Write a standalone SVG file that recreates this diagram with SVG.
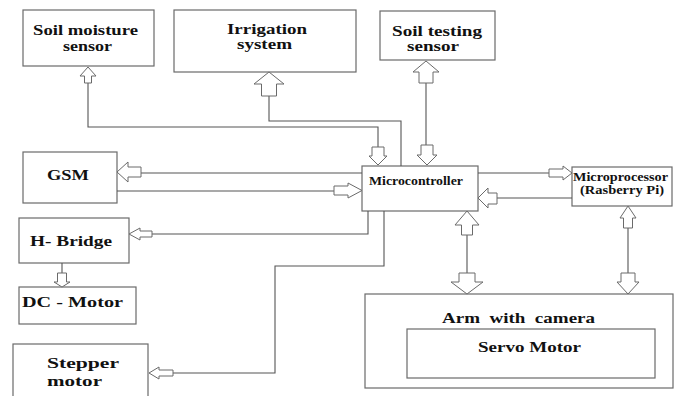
<svg xmlns="http://www.w3.org/2000/svg" width="681" height="396" viewBox="0 0 681 396">
  <style>
    .box { fill: #ffffff; stroke: #6a6a6a; stroke-width: 1.2; }
    .lbl { font-family: "Liberation Serif", "Times New Roman", serif; font-weight: bold; font-size: 14.5px; fill: #111; }
    .sm { font-size: 11.5px; }
    .wire { fill: none; stroke: #555; stroke-width: 1.1; }
    .arr { fill: #ffffff; stroke: #6a6a6a; stroke-width: 1; stroke-linejoin: miter; }
  </style>
  <rect width="681" height="396" fill="#ffffff"/>

  <g id="soil-moisture-sensor">
    <rect class="box" x="23" y="10" width="131" height="56"/>
    <text class="lbl" x="33" y="35" textLength="105" lengthAdjust="spacingAndGlyphs">Soil moisture</text>
    <text class="lbl" x="63" y="51" textLength="49" lengthAdjust="spacingAndGlyphs">sensor</text>
  </g>
  <g id="irrigation-system">
    <rect class="box" x="174" y="10" width="182" height="62"/>
    <text class="lbl" x="227" y="34" textLength="80" lengthAdjust="spacingAndGlyphs">Irrigation</text>
    <text class="lbl" x="237" y="49" textLength="55" lengthAdjust="spacingAndGlyphs">system</text>
  </g>
  <g id="soil-testing-sensor">
    <rect class="box" x="380" y="11" width="115" height="49"/>
    <text class="lbl" x="392" y="36" textLength="90" lengthAdjust="spacingAndGlyphs">Soil testing</text>
    <text class="lbl" x="407" y="51" textLength="52" lengthAdjust="spacingAndGlyphs">sensor</text>
  </g>
  <g id="gsm">
    <rect class="box" x="23" y="152" width="94" height="51"/>
    <text class="lbl" x="47" y="180" textLength="42" lengthAdjust="spacingAndGlyphs">GSM</text>
  </g>
  <g id="h-bridge">
    <rect class="box" x="19" y="218" width="110" height="45"/>
    <text class="lbl" x="30" y="246" textLength="82" lengthAdjust="spacingAndGlyphs">H- Bridge</text>
  </g>
  <g id="dc-motor">
    <rect class="box" x="19" y="287" width="117" height="37"/>
    <text class="lbl" x="22" y="307" textLength="101" lengthAdjust="spacingAndGlyphs">DC - Motor</text>
  </g>
  <g id="stepper-motor">
    <rect class="box" x="13" y="344" width="135" height="60"/>
    <text class="lbl" x="47" y="368" textLength="72" lengthAdjust="spacingAndGlyphs">Stepper</text>
    <text class="lbl" x="47" y="386" textLength="55" lengthAdjust="spacingAndGlyphs">motor</text>
  </g>
  <g id="microcontroller">
    <rect class="box" x="362" y="166" width="116" height="45"/>
    <text class="lbl sm" x="369" y="185" textLength="94" lengthAdjust="spacingAndGlyphs">Microcontroller</text>
  </g>
  <g id="microprocessor">
    <rect class="box" x="572" y="167" width="100" height="39"/>
    <text class="lbl sm" x="573" y="181" textLength="95" lengthAdjust="spacingAndGlyphs">Microprocessor</text>
    <text class="lbl sm" x="580" y="194" textLength="84" lengthAdjust="spacingAndGlyphs">(Rasberry Pi)</text>
  </g>
  <g id="arm-with-camera">
    <rect class="box" x="365" y="294" width="308" height="94"/>
    <text class="lbl" x="442" y="323" textLength="153" lengthAdjust="spacingAndGlyphs" xml:space="preserve">Arm  with  camera</text>
    <g id="servo-motor">
      <rect class="box" x="407" y="329" width="248" height="49"/>
      <text class="lbl" x="478" y="352" textLength="103" lengthAdjust="spacingAndGlyphs">Servo Motor</text>
    </g>
  </g>

  <g id="connectors">
    <!-- wires -->
    <path class="wire" d="M88 83 V127 H378 V147"/>
    <path class="wire" d="M269 96 V121 H401 V166"/>
    <path class="wire" d="M426 83 V145"/>
    <path class="wire" d="M362 173 H141"/>
    <path class="wire" d="M117 191 H334"/>
    <path class="wire" d="M368 211 V234 H152"/>
    <path class="wire" d="M384 211 V266 H275 V373 H173"/>
    <path class="wire" d="M62 263 V273"/>
    <path class="wire" d="M478 173 H549"/>
    <path class="wire" d="M572 198 H497"/>
    <path class="wire" d="M467 235 V273"/>
    <path class="wire" d="M628 228 V273"/>

    <!-- hollow block arrows -->
    <polygon class="arr" points="88,67 96,76 91.5,76 91.5,83 84.5,83 84.5,76 80,76"/>
    <polygon class="arr" points="378,165 387,156 384,156 384,147 372,147 372,156 369,156"/>
    <polygon class="arr" points="269,72 284,84 276.5,84 276.5,96 261.5,96 261.5,84 254,84"/>
    <polygon class="arr" points="426,61 439,72 433,72 433,83 419,83 419,72 413,72"/>
    <polygon class="arr" points="427,165 437,155 433,155 433,145 421,145 421,155 417,155"/>
    <polygon class="arr" points="117,172 128,162 128,167 141,167 141,177 128,177 128,182"/>
    <polygon class="arr" points="362,190.5 348,183 348,186 334,186 334,195 348,195 348,198"/>
    <polygon class="arr" points="129,234 140,228 140,231 152,231 152,237 140,237 140,240"/>
    <polygon class="arr" points="149,373 159,367 159,370 173,370 173,376 159,376 159,379"/>
    <polygon class="arr" points="62,287 70,282 66.5,282 66.5,273 57.5,273 57.5,282 54,282"/>
    <polygon class="arr" points="572,173 563,166 563,169 549,169 549,177 563,177 563,180"/>
    <polygon class="arr" points="478,198 488,188 488,193 497,193 497,204 488,204 488,208"/>
    <polygon class="arr" points="467,211 479,225 472.5,225 472.5,235 461.5,235 461.5,225 455,225"/>
    <polygon class="arr" points="467,294 483,282 475,282 475,273 459,273 459,282 451,282"/>
    <polygon class="arr" points="628,206 636,218 632.5,218 632.5,228 623.5,228 623.5,218 620,218"/>
    <polygon class="arr" points="628,294 639,282 635,282 635,273 621,273 621,282 617,282"/>
  </g>
</svg>
